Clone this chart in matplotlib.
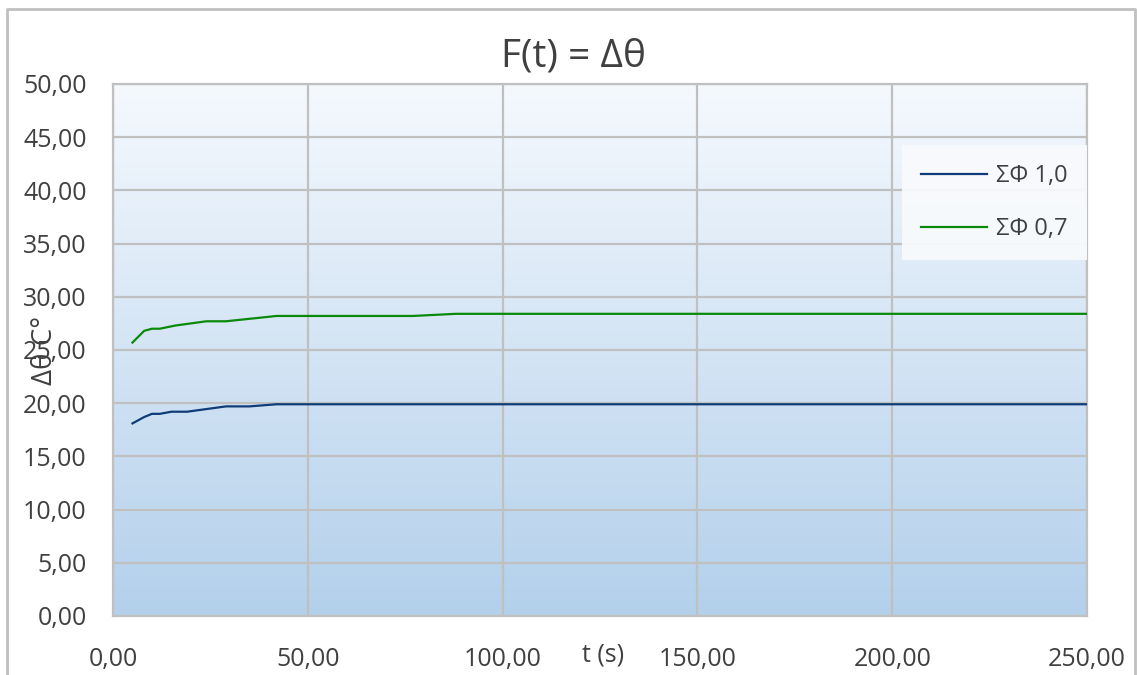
import numpy as np
import matplotlib.pyplot as plt
from matplotlib.colors import LinearSegmentedColormap
from matplotlib.lines import Line2D

plt.rcParams['font.family'] = ['Open Sans', 'DejaVu Sans']

# valeurs
t_10 = [5, 8, 10, 12, 15, 19, 24, 29, 35, 42, 250]
phi_10 = [18.1, 18.7, 19.0, 19.0, 19.2, 19.2, 19.45, 19.7, 19.7, 19.9, 19.9]
t_07 = [5, 8, 10, 12, 16, 20, 24, 29, 42, 77, 88, 250]
phi_07 = [25.7, 26.8, 27.0, 27.0, 27.3, 27.5, 27.7, 27.7, 28.2, 28.2, 28.4, 28.4]
x_ticks = [0, 50, 100, 150, 200, 250]
y_ticks = [0, 5, 10, 15, 20, 25, 30, 35, 40, 45, 50]

W, H = 1137, 675
fig = plt.figure(figsize=(W / 100, H / 100), dpi=100)
ax = fig.add_axes([113 / W, 1 - 616 / H, (1087 - 113) / W, (616 - 84) / H])

# fond en degrade (blanc en haut, bleu clair en bas)
cmap = LinearSegmentedColormap.from_list("bg", ["#f5f9fe", "#b3d0eb"])
grad = np.linspace(0, 1, 256).reshape(-1, 1)
ax.imshow(grad, cmap=cmap, aspect="auto", extent=(0, 1, 0, 1),
          transform=ax.transAxes, zorder=0)

ax.plot(t_10, phi_10, color="#0f3c78", lw=1.6, label="ΣΦ 1,0", zorder=3)
ax.plot(t_07, phi_07, color="#0a8a0a", lw=1.6, label="ΣΦ 0,7", zorder=3)

ax.set_xlim(0, 250)
ax.set_ylim(0, 50)
ax.set_xticks(x_ticks)
ax.set_yticks(y_ticks)
ax.set_xticklabels([f"{v:.2f}".replace(".", ",") for v in x_ticks])
ax.set_yticklabels([f"{v:.2f}".replace(".", ",") for v in y_ticks])
ax.tick_params(length=0, labelsize=18, colors="#404040")
ax.tick_params(axis="x", pad=22)
ax.tick_params(axis="y", pad=19)
ax.grid(color="#c0c0c0", lw=1.6, zorder=1)
ax.set_axisbelow(False)
for s in ax.spines.values():
    s.set_color("#c0c0c0")
    s.set_linewidth(1.6)

fig.text(573 / W, 1 - 57 / H, "F(t) = Δθ", fontsize=28, color="#404040",
         ha="center", va="center")
fig.text(45 / W, 1 - 350 / H, "Δθ C°", fontsize=20, color="#404040",
         rotation=90, ha="center", va="center")
fig.text(603 / W, 1 - 655 / H, "t (s)", fontsize=18, color="#404040",
         ha="center", va="center")

leg = ax.legend(loc="upper right", bbox_to_anchor=(1.0, (616 - 145) / 532),
                fontsize=17, frameon=True, fancybox=False, handlelength=2.8,
                handletextpad=0.4, labelspacing=1.25, borderpad=0.8,
                borderaxespad=0)
leg.get_frame().set_facecolor("#f8fafd")
leg.get_frame().set_edgecolor("none")
leg.get_frame().set_alpha(0.95)
for txt in leg.get_texts():
    txt.set_color("#404040")

# cadre exterieur du graphique
fig.add_artist(Line2D([7 / W, 7 / W, 1135 / W, 1135 / W],
                      [0, 1 - 9 / H, 1 - 9 / H, 0],
                      transform=fig.transFigure, color="#c0c0c0", lw=2))

fig.savefig("out.png", dpi=100)
